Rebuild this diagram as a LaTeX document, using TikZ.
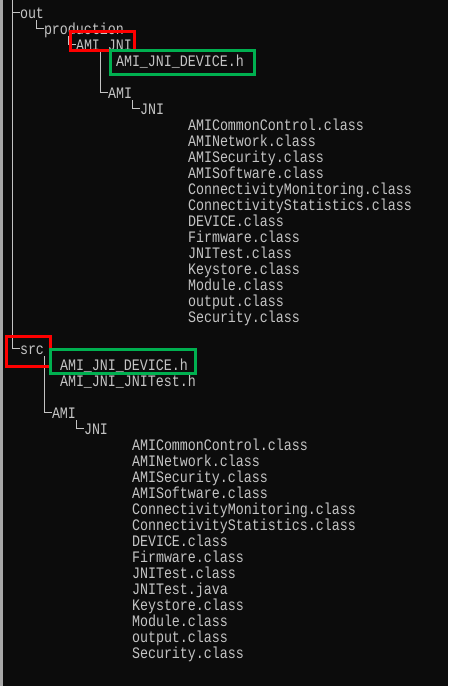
\documentclass[tikz,border=0pt]{standalone}
\usepackage{fontspec}
\newfontfamily\consolefont[FakeStretch=0.8333]{Liberation Mono}
\usetikzlibrary{calc}
\definecolor{bg}{HTML}{0C0C0C}
\definecolor{fg}{HTML}{C4C4C4}
\definecolor{boxred}{HTML}{FF0000}
\definecolor{boxgreen}{HTML}{00B050}
\definecolor{edgegray}{HTML}{A8A8A8}
\begin{document}
\begin{tikzpicture}[x=1pt,y=-1pt,
  entry/.style={anchor=base west, inner sep=0pt, outer sep=0pt, text=fg, font=\consolefont\fontsize{16}{16}\selectfont},
  branch/.style={draw=fg, line width=0.9pt},
  redmark/.style={draw=boxred, line width=3pt},
  greenmark/.style={draw=boxgreen, line width=3pt}]
\fill[bg] (0,0) rectangle (448,686);
\fill[edgegray] (0,0) rectangle (2.5,686);
\useasboundingbox (0,0) rectangle (448,686);
\coordinate (treetop) at (12,0);
% out section
\node[entry] (out) at (20,18) {out};
\node[entry] (production) at (44,34) {production};
\node[entry] (amijni) at (76,50) {AMI\_JNI};
\node[entry] (devh1) at (116,66) {AMI\_JNI\_DEVICE.h};
\node[entry] (ami1) at (108,98) {AMI};
\node[entry] (jni1) at (140,114) {JNI};
\foreach [count=\i] \fname in {AMICommonControl.class,AMINetwork.class,AMISecurity.class,AMISoftware.class,ConnectivityMonitoring.class,ConnectivityStatistics.class,DEVICE.class,Firmware.class,JNITest.class,Keystore.class,Module.class,output.class,Security.class}
  \node[entry] (a\i) at (188,114+16*\i) {\fname};
% src section
\node[entry] (src) at (20,354) {src};
\node[entry] (devh2) at (60,370) {AMI\_JNI\_DEVICE.h};
\node[entry] (testh) at (60,386) {AMI\_JNI\_JNITest.h};
\node[entry] (ami2) at (52,418) {AMI};
\node[entry] (jni2) at (84,434) {JNI};
\foreach [count=\i] \fname in {AMICommonControl.class,AMINetwork.class,AMISecurity.class,AMISoftware.class,ConnectivityMonitoring.class,ConnectivityStatistics.class,DEVICE.class,Firmware.class,JNITest.class,JNITest.java,Keystore.class,Module.class,output.class,Security.class}
  \node[entry] (b\i) at (132,434+16*\i) {\fname};
% tree connectors
\draw[branch] (treetop) |- ($(src.base west)+(0,-6)$);
\draw[branch] ($(out.base west)+(-8,-6)$) -- ($(out.base west)+(0,-6)$);
\draw[branch] ($(production.base west)+(-8,-14)$) |- ($(production.base west)+(0,-6)$);
\draw[branch] ($(amijni.base west)+(-8,-14)$) |- ($(amijni.base west)+(0,-6)$);
\draw[branch] ($(devh1.base west)+(-16,-14)$) |- ($(ami1.base west)+(0,-6)$);
\draw[branch] ($(jni1.base west)+(-8,-14)$) |- ($(jni1.base west)+(0,-6)$);
\draw[branch] ($(devh2.base west)+(-16,-14)$) |- ($(ami2.base west)+(0,-6)$);
\draw[branch] ($(jni2.base west)+(-8,-14)$) |- ($(jni2.base west)+(0,-6)$);
% highlight boxes
\draw[redmark] ($(amijni.base west)+(-6,-19)$) rectangle ($(amijni.base east)+(2,0)$);
\draw[greenmark] ($(devh1.base west)+(-6,-16)$) rectangle ($(devh1.base east)+(10,8)$);
\draw[redmark] ($(src.base west)+(-13.5,-18)$) rectangle ($(src.base east)+(6,12)$);
\draw[greenmark] ($(devh2.base west)+(-10,-21)$) rectangle ($(devh2.base east)+(7,3.5)$);
\end{tikzpicture}
\end{document}
